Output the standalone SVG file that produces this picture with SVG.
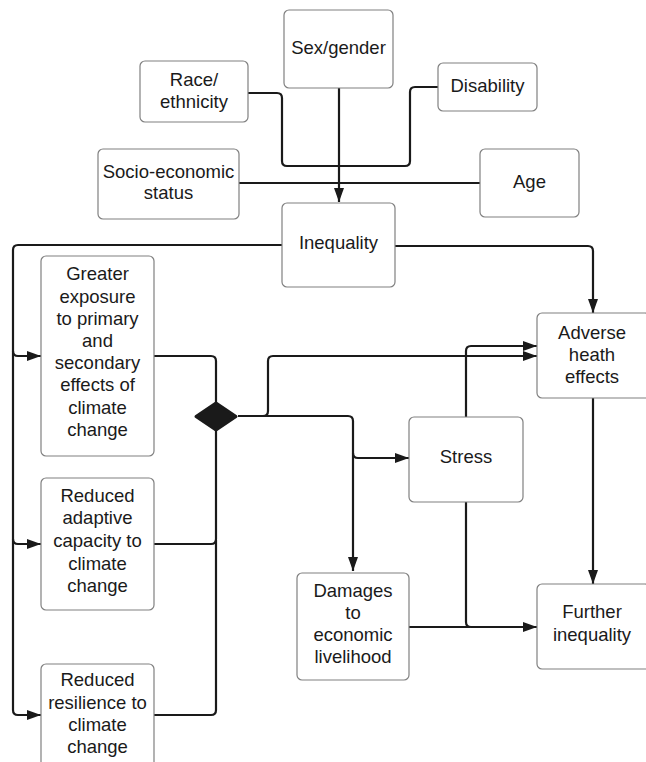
<svg xmlns="http://www.w3.org/2000/svg" width="646" height="762" viewBox="0 0 646 762">
<defs>
<style>
.box{fill:#fff;stroke:#808080;stroke-width:1.2}
.t{font-family:"Liberation Sans",Arial,Helvetica,sans-serif;font-size:18.5px;fill:#1a1a1a;text-anchor:middle}
.c{fill:none;stroke:#1a1a1a;stroke-width:2.2}
.a{marker-end:url(#arr)}
</style>
<marker id="arr" viewBox="0 0 14 10" refX="14" refY="5" markerWidth="14" markerHeight="10" orient="auto" markerUnits="userSpaceOnUse">
<path d="M0,0 L14,5 L0,10 Z" fill="#1a1a1a"/>
</marker>
</defs>
<rect width="646" height="762" fill="#fff"/>
<g id="connectors">
<path class="c" d="M248,93 H277 Q282,93 282,98 V161 Q282,166 287,166 H339"/>
<path class="c" d="M438,87 H415 Q410,87 410,92 V161 Q410,166 405,166 H339"/>
<path class="c a" d="M339,88 V202"/>
<path class="c" d="M239,183 H480"/>
<path class="c a" d="M282,245 H18 Q13,245 13,250 V710 Q13,715 18,715 H41"/>
<path class="c a" d="M13,351 Q13,356 18,356 H41"/>
<path class="c a" d="M13,539 Q13,544 18,544 H41"/>
<path class="c a" d="M395,246 H588 Q593,246 593,251 V313"/>
<path class="c" d="M154,356 H211 Q216,356 216,361 V405"/>
<path class="c" d="M154,544 H211 Q216,544 216,539 V428"/>
<path class="c" d="M154,715 H211 Q216,715 216,710 V540"/>
<path class="c a" d="M238,416 H263 Q268,416 268,411 V361 Q268,356 273,356 H537"/>
<path class="c a" d="M238,416 H348 Q353,416 353,421 V571"/>
<path class="c a" d="M353,453 Q353,458 358,458 H409"/>
<path class="c a" d="M466,417 V351 Q466,346 471,346 H537"/>
<path class="c a" d="M466,502 V622 Q466,627 471,627 H537"/>
<path class="c" d="M409,627 H470"/>
<path class="c a" d="M593,398 V584"/>
<path d="M216,403 L236,416.5 L216,430 L196,416.5 Z" fill="#1a1a1a" stroke="#1a1a1a" stroke-width="3" stroke-linejoin="round"/>
</g>
<g id="sex"><rect class="box" x="284" y="10" width="109" height="78" rx="5"/><text class="t" x="338.5" y="54">Sex/gender</text></g>
<g id="race"><rect class="box" x="140" y="61" width="108" height="61" rx="5"/><text class="t" x="194" y="86">Race/</text><text class="t" x="194" y="108">ethnicity</text></g>
<g id="disability"><rect class="box" x="438" y="63" width="99" height="48" rx="5"/><text class="t" x="487.5" y="92">Disability</text></g>
<g id="ses"><rect class="box" x="98" y="149" width="141" height="70" rx="5"/><text class="t" x="168.5" y="178">Socio-economic</text><text class="t" x="168.5" y="199">status</text></g>
<g id="age"><rect class="box" x="480" y="149" width="99" height="68" rx="5"/><text class="t" x="529.5" y="188">Age</text></g>
<g id="inequality"><rect class="box" x="282" y="203" width="113" height="84" rx="5"/><text class="t" x="338.5" y="249">Inequality</text></g>
<g id="exposure"><rect class="box" x="41" y="256" width="113" height="200" rx="5"/>
<text class="t" x="97.5" y="280">Greater</text><text class="t" x="97.5" y="303">exposure</text><text class="t" x="97.5" y="325">to primary</text><text class="t" x="97.5" y="347">and</text><text class="t" x="97.5" y="369">secondary</text><text class="t" x="97.5" y="391">effects of</text><text class="t" x="97.5" y="414">climate</text><text class="t" x="97.5" y="436">change</text></g>
<g id="adaptive"><rect class="box" x="41" y="478" width="113" height="132" rx="5"/>
<text class="t" x="97.5" y="502">Reduced</text><text class="t" x="97.5" y="524">adaptive</text><text class="t" x="97.5" y="547">capacity to</text><text class="t" x="97.5" y="570">climate</text><text class="t" x="97.5" y="592">change</text></g>
<g id="resilience"><rect class="box" x="41" y="664" width="113" height="110" rx="5"/>
<text class="t" x="97.5" y="686">Reduced</text><text class="t" x="97.5" y="709">resilience to</text><text class="t" x="97.5" y="731">climate</text><text class="t" x="97.5" y="753">change</text></g>
<g id="stress"><rect class="box" x="409" y="417" width="114" height="85" rx="5"/><text class="t" x="466" y="463">Stress</text></g>
<g id="damages"><rect class="box" x="297" y="573" width="112" height="107" rx="5"/>
<text class="t" x="353" y="597">Damages</text><text class="t" x="353" y="619">to</text><text class="t" x="353" y="641">economic</text><text class="t" x="353" y="663">livelihood</text></g>
<g id="adverse"><rect class="box" x="537" y="313" width="113" height="85" rx="5"/>
<text class="t" x="592" y="339">Adverse</text><text class="t" x="592" y="361">heath</text><text class="t" x="592" y="383">effects</text></g>
<g id="further"><rect class="box" x="537" y="584" width="113" height="85" rx="5"/>
<text class="t" x="592" y="618">Further</text><text class="t" x="592" y="641">inequality</text></g>
</svg>
